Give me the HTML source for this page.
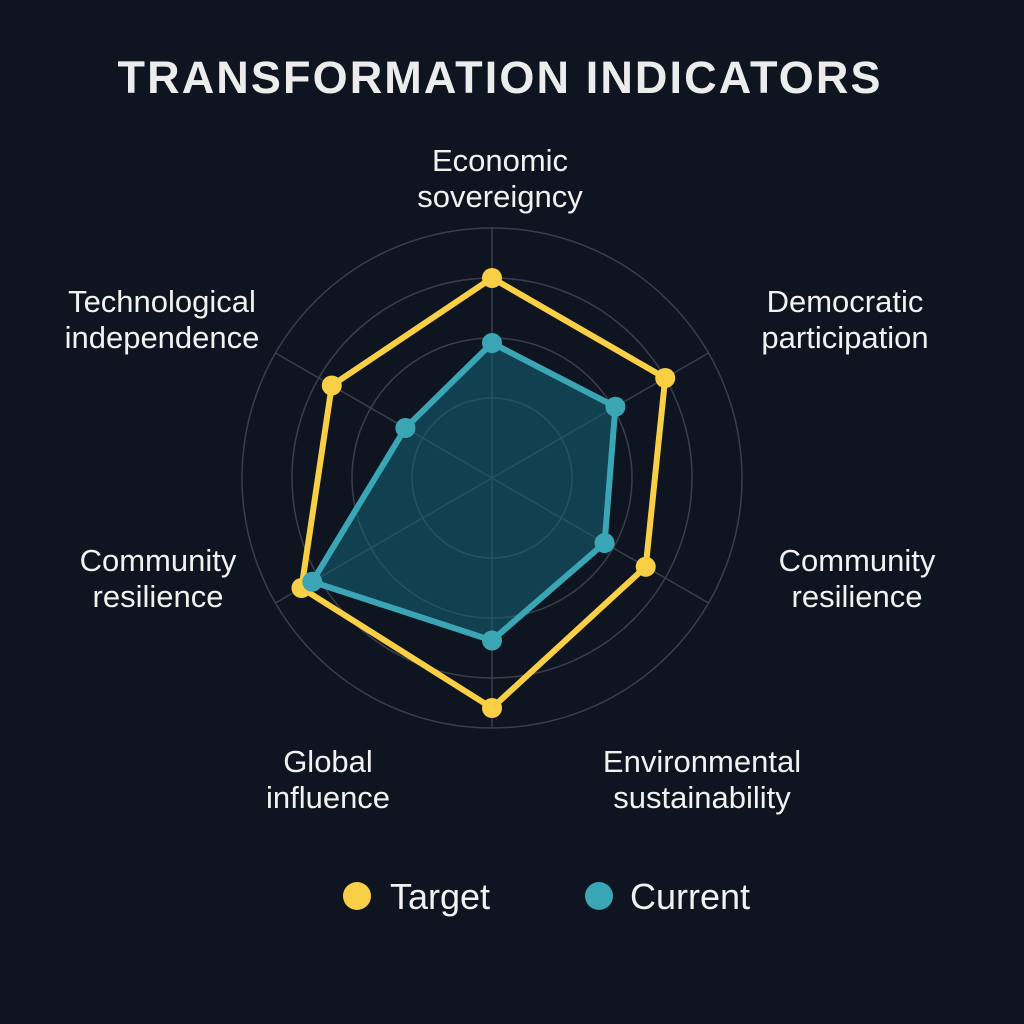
<!DOCTYPE html>
<html><head><meta charset="utf-8"><style>
html,body{margin:0;padding:0;background:#0e1420;}
svg{display:block;font-family:"Liberation Sans","DejaVu Sans",sans-serif;}
</style></head><body>
<svg id="chart" width="1024" height="1024" viewBox="0 0 1024 1024">
<rect width="1024" height="1024" fill="#0e1420"/>
<text x="500" y="93" text-anchor="middle" fill="#ececec" font-size="45" font-weight="bold" letter-spacing="2" textLength="765">TRANSFORMATION INDICATORS</text>
<g id="grid"></g>
<g id="series"></g>
<g fill="#f2f2f2" font-size="31" text-anchor="middle">
<text x="500" y="171"><tspan x="500">Economic</tspan><tspan x="500" dy="36">sovereigncy</tspan></text>
<text x="845" y="312"><tspan x="845">Democratic</tspan><tspan x="845" dy="36">participation</tspan></text>
<text x="857" y="571"><tspan x="857">Community</tspan><tspan x="857" dy="36">resilience</tspan></text>
<text x="702" y="772"><tspan x="702">Environmental</tspan><tspan x="702" dy="36">sustainability</tspan></text>
<text x="328" y="772"><tspan x="328">Global</tspan><tspan x="328" dy="36">influence</tspan></text>
<text x="158" y="571"><tspan x="158">Community</tspan><tspan x="158" dy="36">resilience</tspan></text>
<text x="162" y="312"><tspan x="162">Technological</tspan><tspan x="162" dy="36">independence</tspan></text>
</g>
<g>
<circle cx="357" cy="896" r="14" fill="#f9cf45"/>
<text x="390" y="909" fill="#f2f2f2" font-size="36">Target</text>
<circle cx="599" cy="896" r="14" fill="#3aa6b5"/>
<text x="630" y="909" fill="#f2f2f2" font-size="36">Current</text>
</g>
</svg>
<script>
const categories = ["Economic sovereignty","Democratic participation","Community resilience","Environmental sustainability","Global influence","Technological independence"];
const targetValues = [80, 80, 71, 92, 88, 74];
const currentValues = [54, 57, 52, 65, 83, 40];
const ringLevels = [32, 56, 80, 100];
const maxValue = 100;

const NS = "http://www.w3.org/2000/svg";
const cx = 492, cy = 478, R = 250;
function angle(i){ return -Math.PI/2 + i * 2*Math.PI/categories.length; }
function pt(i, v){ const r = v / maxValue * R; return [cx + r*Math.cos(angle(i)), cy + r*Math.sin(angle(i))]; }
function mk(tag, attrs, parent){ const e = document.createElementNS(NS, tag); for (const k in attrs) e.setAttribute(k, attrs[k]); parent.appendChild(e); return e; }

const grid = document.getElementById('grid');
ringLevels.forEach((lv) => {
  const c = mk('circle', {cx: cx, cy: cy, r: lv/maxValue*R, fill: 'none', stroke: '#3a404b', 'stroke-width': 1.5}, grid);
  
  
});
categories.forEach((c, i) => {
  const p = pt(i, maxValue);
  const l = mk('line', {x1: cx, y1: cy, x2: p[0], y2: p[1], stroke: '#3a404b', 'stroke-width': 1.5}, grid);
  
  
});

const series = document.getElementById('series');
function drawSeries(vals, color, fill, name){
  const pts = vals.map((v, i) => pt(i, v));
  const poly = mk('polygon', {points: pts.map(p => p.join(',')).join(' '), fill: fill, stroke: color, 'stroke-width': 6, 'stroke-linejoin': 'round'}, series);
  
  
  pts.forEach((p) => {
    const d = mk('circle', {cx: p[0], cy: p[1], r: 10, fill: color}, series);
    
    
  });
}
drawSeries(targetValues, '#f9cf45', 'none', 'target');
drawSeries(currentValues, '#3aa6b5', 'rgba(20,95,115,0.6)', 'current');
</script>
</body></html>
